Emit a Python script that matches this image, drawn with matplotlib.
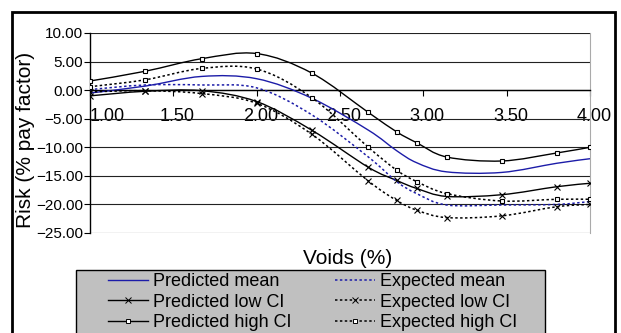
import numpy as np
import matplotlib
matplotlib.use("Agg")
import matplotlib.pyplot as plt
from matplotlib.path import Path
from matplotlib.patches import PathPatch, Rectangle
from matplotlib.lines import Line2D
import matplotlib.transforms as mtransforms

plt.rcParams['font.family'] = ['Liberation Sans', 'DejaVu Sans']

# ---- data ----
voids = [1.00, 1.33, 1.67, 2.00, 2.33, 2.67, 2.84, 2.96, 3.14, 3.47, 3.80, 4.00]
pred_mean = [-0.5, 0.7, 2.4, 2.0, -1.4, -7.0, -10.6, -12.7, -14.3, -14.4, -12.8, -12.0]
pred_low = [-1.0, -0.2, -0.1, -2.0, -7.0, -13.5, -15.8, -17.2, -18.6, -18.3, -16.9, -16.3]
pred_high = [1.6, 3.3, 5.5, 6.4, 3.0, -3.9, -7.3, -9.2, -11.7, -12.4, -11.0, -10.0]
exp_mean = [0.1, 0.9, 0.9, 0.4, -4.3, -11.7, -16.0, -18.1, -20.1, -20.1, -20.0, -19.5]
exp_low = [-0.3, -0.1, -0.6, -2.3, -7.7, -15.9, -19.3, -21.0, -22.3, -22.0, -20.4, -20.0]
exp_high = [0.6, 1.8, 3.8, 3.7, -1.3, -10.0, -14.0, -16.0, -18.1, -19.4, -19.1, -19.1]

series_labels = ["Predicted mean", "Predicted low CI", "Predicted high CI",
                 "Expected mean", "Expected low CI", "Expected high CI"]
x_ticks = [1.0, 1.5, 2.0, 2.5, 3.0, 3.5, 4.0]
y_ticks = [10, 5, 0, -5, -10, -15, -20, -25]

BLUE = '#1c1ca8'
DOT = (0, (1.6, 1.6))


def smooth_path(x, y):
    pts = np.column_stack([x, y]).astype(float)
    n = len(pts)
    verts = [pts[0]]
    codes = [Path.MOVETO]
    for i in range(n - 1):
        p0 = pts[i - 1] if i > 0 else pts[i]
        p1 = pts[i]
        p2 = pts[i + 1]
        p3 = pts[i + 2] if i + 2 < n else pts[i + 1]
        c1 = p1 + (p2 - p0) / 6.0
        c2 = p2 - (p3 - p1) / 6.0
        verts += [c1, c2, p2]
        codes += [Path.CURVE4] * 3
    return Path(verts, codes)


W, H = 621, 333
fig = plt.figure(figsize=(W / 100, H / 100), dpi=100)
fig.patch.set_facecolor('white')

# outer chart border
fig.patches.append(Rectangle((12 / W, -0.1), (615 - 12) / W, (1 - 12 / H) + 0.1,
                             transform=fig.transFigure, fill=False,
                             edgecolor='black', lw=2, zorder=0))

ax = fig.add_axes([90 / W, 1 - 233 / H, 500 / W, 200 / H])
ax.set_xlim(1, 4)
ax.set_ylim(-25, 10)

styles = [
    (pred_mean, dict(color=BLUE, lw=1.0, ls='-'), None),
    (pred_low, dict(color='black', lw=1.0, ls='-'), 'x'),
    (pred_high, dict(color='black', lw=1.0, ls='-'), 's'),
    (exp_mean, dict(color=BLUE, lw=1.1, ls=DOT), None),
    (exp_low, dict(color='black', lw=1.1, ls=DOT), 'x'),
    (exp_high, dict(color='black', lw=1.1, ls=DOT), 's'),
]

handles = []
for (vals, st, mk), lab in zip(styles, series_labels):
    p = smooth_path(voids, vals)
    patch = PathPatch(p, facecolor='none', edgecolor=st['color'], lw=st['lw'],
                      linestyle=st['ls'], zorder=3)
    ax.add_patch(patch)
    if mk == 's':
        ax.plot(voids, vals, ls='none', marker='s', ms=3.2, mfc='white',
                mec='black', mew=0.8, zorder=4)
    elif mk == 'x':
        ax.plot(voids, vals, ls='none', marker='x', ms=5, mec='black',
                mew=0.8, zorder=4)
    handles.append(Line2D([], [], color=st['color'], lw=st['lw'], ls=st['ls'],
                          marker=mk if mk else None,
                          ms=(2.8 if mk == 's' else 4), mfc='white', mec='black',
                          mew=0.7))

# gridlines
ax.set_yticks(y_ticks)
ax.yaxis.grid(True, color='#222222', lw=0.8)
ax.set_axisbelow(True)
ax.set_yticklabels([("%.2f" % v).replace('-', '\u2212') for v in y_ticks],
                   fontsize=11)
ax.tick_params(axis='y', direction='out', length=4, width=0.8, pad=1,
               colors='black')

ax.spines['top'].set_visible(False)
ax.spines['right'].set_color('#aaaaaa')
ax.spines['right'].set_linewidth(0.8)
ax.spines['left'].set_color('black')
ax.spines['left'].set_linewidth(1.0)
ax.spines['bottom'].set_position(('data', 0))
ax.spines['bottom'].set_color('black')
ax.spines['bottom'].set_linewidth(1.0)

ax.set_xticks(x_ticks)
ax.set_xticklabels(["%.2f" % v for v in x_ticks], fontsize=13)
ax.tick_params(axis='x', direction='out', length=4, width=0.8, pad=9)
off = mtransforms.ScaledTranslation(4 / 100, 0, fig.dpi_scale_trans)
for i, lbl in enumerate(ax.get_xticklabels()):
    if i == 0:
        lbl.set_horizontalalignment('left')
    else:
        lbl.set_transform(lbl.get_transform() + off)

# axis titles
fig.text(348 / W, 1 - 258 / H, "Voids (%)", fontsize=15, ha='center', va='center')
fig.text(26 / W, 1 - 140 / H, "Risk (% pay factor)", fontsize=15, rotation=90,
         ha='center', va='center')

# legend box
fig.patches.append(Rectangle((76 / W, -0.1), (545 - 76) / W, (1 - 270 / H) + 0.1,
                             transform=fig.transFigure, facecolor='#c0c0c0',
                             edgecolor='black', lw=1, zorder=1))
leg = fig.legend(handles, series_labels, ncol=2, loc='upper left',
                 bbox_to_anchor=(108 / W, 1 - 273 / H), frameon=False,
                 fontsize=13, handlelength=2.2, handletextpad=0.3,
                 columnspacing=2.4, labelspacing=0.2, borderpad=0,
                 borderaxespad=0, numpoints=1)
leg.set_zorder(2)

fig.savefig("out.png", dpi=100)
